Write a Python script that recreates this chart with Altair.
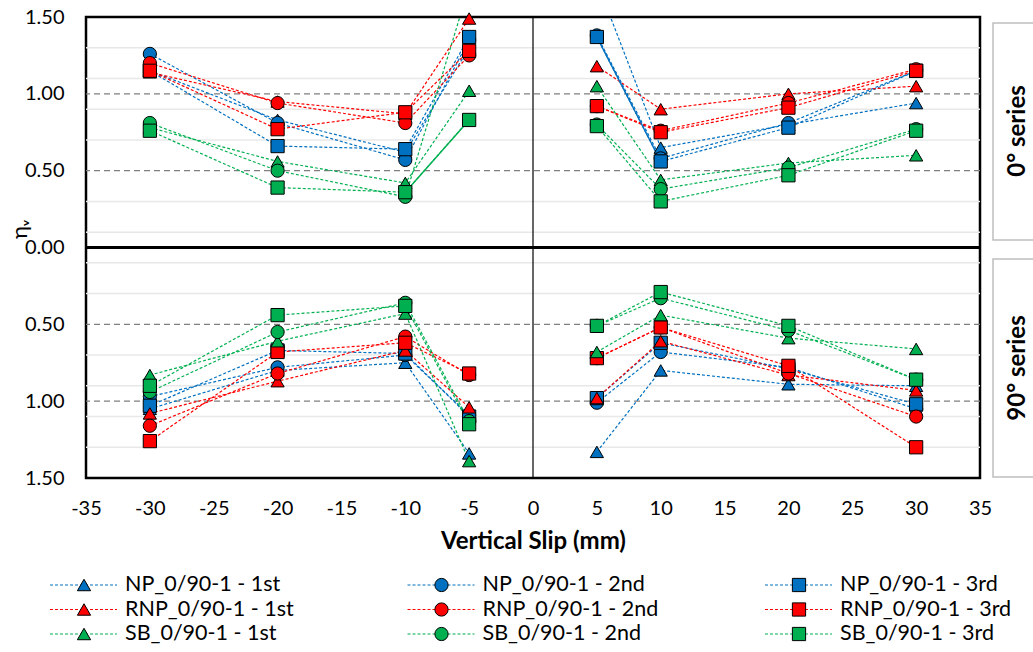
import altair as alt
import pandas as pd

# ---------------- data ----------------
slip = [-30, -20, -10, -5, 5, 10, 20, 30]

series_names = [
    "NP_0/90-1 - 1st", "NP_0/90-1 - 2nd", "NP_0/90-1 - 3rd",
    "RNP_0/90-1 - 1st", "RNP_0/90-1 - 2nd", "RNP_0/90-1 - 3rd",
    "SB_0/90-1 - 1st", "SB_0/90-1 - 2nd", "SB_0/90-1 - 3rd",
]
series_colors = ["#0070C0"] * 3 + ["#FF0000"] * 3 + ["#00B050"] * 3
series_shapes = ["triangle-up", "circle", "square"] * 3

# 0° series (upper panel)
np1_0 = [1.15, 0.83, 0.62, 1.30, 1.73, 0.65, 0.80, 0.94]
np2_0 = [1.26, 0.81, 0.57, 1.35, 1.38, 0.58, 0.81, 1.15]
np3_0 = [1.15, 0.66, 0.64, 1.37, 1.37, 0.56, 0.78, 1.15]
rnp1_0 = [1.14, 0.95, 0.87, 1.49, 1.18, 0.90, 1.00, 1.05]
rnp2_0 = [1.20, 0.94, 0.81, 1.25, 0.92, 0.76, 0.94, 1.16]
rnp3_0 = [1.15, 0.77, 0.88, 1.28, 0.92, 0.75, 0.91, 1.15]
sb1_0 = [0.78, 0.56, 0.42, 1.02, 1.05, 0.44, 0.55, 0.60]
sb2_0 = [0.81, 0.50, 0.33, 1.70, 0.80, 0.38, 0.52, 0.77]
sb3_0 = [0.76, 0.39, 0.36, 0.83, 0.79, 0.30, 0.47, 0.76]

# 90° series (lower panel, axis reversed)
np1_90 = [1.05, 0.80, 0.75, 1.34, 1.33, 0.80, 0.89, 0.90]
np2_90 = [0.97, 0.78, 0.70, 1.09, 1.01, 0.68, 0.78, 1.05]
np3_90 = [1.03, 0.67, 0.69, 1.10, 0.98, 0.62, 0.79, 1.02]
rnp1_90 = [1.08, 0.87, 0.67, 1.04, 0.98, 0.61, 0.83, 0.93]
rnp2_90 = [1.16, 0.82, 0.58, 0.83, 0.72, 0.52, 0.82, 1.10]
rnp3_90 = [1.26, 0.68, 0.62, 0.82, 0.72, 0.52, 0.77, 1.30]
sb1_90 = [0.83, 0.61, 0.43, 1.39, 0.68, 0.44, 0.59, 0.66]
sb2_90 = [0.94, 0.55, 0.36, 1.13, 0.51, 0.33, 0.54, 0.86]
sb3_90 = [0.90, 0.44, 0.38, 1.15, 0.51, 0.29, 0.51, 0.86]

values_0 = [np1_0, np2_0, np3_0, rnp1_0, rnp2_0, rnp3_0, sb1_0, sb2_0, sb3_0]
values_90 = [np1_90, np2_90, np3_90, rnp1_90, rnp2_90, rnp3_90, sb1_90, sb2_90, sb3_90]

# segments drawn with a solid line: (series index, panel, from slip, to slip)
solid_segments = [(2, "0", 5, 10), (8, "0", -10, -5)]

x_ticks = list(range(-35, 36, 5))
y_ticks = [-1.5, -1.0, -0.5, 0.0, 0.5, 1.0, 1.5]
grid_minor = [0.1, 0.3, 0.7, 0.9, 1.1, 1.3]
grid_major = [0.5, 1.0]
panel_labels = ["0° series", "90° series"]

# ---------------- tables ----------------
rows = []
for panel, vals, sign in (("0", values_0, 1), ("90", values_90, -1)):
    for i, name in enumerate(series_names):
        for xv, v in zip(slip, vals[i]):
            side = "neg" if xv < 0 else "pos"
            rows.append({"series": name, "idx": i, "panel": panel,
                         "key": name + "|" + panel + "|" + side, "x": xv, "y": sign * v})
df = pd.DataFrame(rows)

seg_rows = []
for k, (i, panel, a, b) in enumerate(solid_segments):
    vals = values_0 if panel == "0" else values_90
    sign = 1 if panel == "0" else -1
    for xv in (a, b):
        seg_rows.append({"series": series_names[i], "seg": k, "x": xv,
                         "y": sign * vals[i][slip.index(xv)]})
dseg = pd.DataFrame(seg_rows)

gmin = pd.DataFrame({"g": [s * g for g in grid_minor for s in (1, -1)]})
gmaj = pd.DataFrame({"g": [s * g for g in grid_major for s in (1, -1)]})
zero = pd.DataFrame({"z": [0]})

leg = pd.DataFrame({
    "series": series_names,
    "col": [i % 3 for i in range(9)],
    "row": [i // 3 for i in range(9)],
})

FONT = "Lato"
W, H = 894, 461
xs = alt.Scale(domain=[-35, 35], nice=False, zero=False)
ys = alt.Scale(domain=[-1.5, 1.5], nice=False, zero=False)
color_scale = alt.Scale(domain=series_names, range=series_colors)
shape_scale = alt.Scale(domain=series_names, range=series_shapes)

minor = alt.Chart(gmin).mark_rule(color="#E8E8E8", strokeWidth=1.5).encode(
    y=alt.Y("g:Q", scale=ys, axis=None))
major = alt.Chart(gmaj).mark_rule(color="#7F7F7F", strokeWidth=1.2, strokeDash=[6, 4]).encode(
    y=alt.Y("g:Q", scale=ys, axis=None))
vline = alt.Chart(zero).mark_rule(color="black", strokeWidth=1.2).encode(
    x=alt.X("z:Q", scale=xs, axis=None))
hline = alt.Chart(zero).mark_rule(color="black", strokeWidth=3).encode(
    y=alt.Y("z:Q", scale=ys, axis=None))

lines = alt.Chart(df).mark_line(strokeDash=[3, 2], strokeWidth=1.2, clip=True).encode(
    x=alt.X("x:Q", scale=xs, axis=None),
    y=alt.Y("y:Q", scale=ys, axis=None),
    color=alt.Color("series:N", scale=color_scale, legend=None),
    detail="key:N",
    order="x:Q",
)

solid = alt.Chart(dseg).mark_line(strokeWidth=1.4, clip=True).encode(
    x=alt.X("x:Q", scale=xs, axis=None),
    y=alt.Y("y:Q", scale=ys, axis=None),
    color=alt.Color("series:N", scale=color_scale, legend=None),
    detail="seg:N",
    order="x:Q",
)

points = alt.Chart(df).transform_filter(
    "abs(datum.y) <= 1.5"
).mark_point(filled=True, size=175, stroke="black", strokeWidth=1, opacity=1).encode(
    x=alt.X("x:Q", scale=xs, axis=alt.Axis(
        values=x_ticks, labelExpr="datum.value + ''", labelFontSize=20, labelFont=FONT,
        labelColor="black", ticks=False, domain=False, grid=False, labelFlush=False,
        labelPadding=20,
        title="Vertical Slip (mm)", titleFont=FONT, titleFontSize=24, titleFontWeight="bold",
        titleColor="black", titlePadding=11)),
    y=alt.Y("y:Q", scale=ys, axis=alt.Axis(
        values=y_ticks, labelExpr="format(abs(datum.value), '.2f')", labelFontSize=20,
        labelFont=FONT, labelColor="black", ticks=False, domain=False, grid=False,
        labelFlush=False, labelPadding=22,
        title="ηᵥ", titleFont=FONT, titleFontSize=22, titleFontWeight="normal",
        titleColor="black", titleAngle=270, titleX=-67, titleY=212,
        titleAlign="center", titleBaseline="middle")),
    fill=alt.Fill("series:N", scale=color_scale, legend=None),
    shape=alt.Shape("series:N", scale=shape_scale, legend=None),
)

# ---------------- custom legend ----------------
lx = alt.Scale(domain=[0, 2], range=[-2, 713])
ly = alt.Scale(domain=[0, 2], range=[568, 617])
leg_lines = alt.Chart(leg).mark_rule(strokeDash=[3, 2], strokeWidth=1.2, xOffset=-34, x2Offset=33).encode(
    x=alt.X("col:Q", scale=lx, axis=None), x2="col:Q",
    y=alt.Y("row:Q", scale=ly, axis=None),
    color=alt.Color("series:N", scale=color_scale, legend=None),
)
leg_pts = alt.Chart(leg).mark_point(filled=True, size=175, stroke="black", strokeWidth=1, opacity=1).encode(
    x=alt.X("col:Q", scale=lx, axis=None),
    y=alt.Y("row:Q", scale=ly, axis=None),
    fill=alt.Fill("series:N", scale=color_scale, legend=None),
    shape=alt.Shape("series:N", scale=shape_scale, legend=None),
)
leg_txt = alt.Chart(leg).mark_text(align="left", baseline="middle", dx=41, fontSize=21.5,
                                   font=FONT, color="black").encode(
    x=alt.X("col:Q", scale=lx, axis=None),
    y=alt.Y("row:Q", scale=ly, axis=None),
    text="series:N",
)

# ---------------- panel labels on the right ----------------
one = pd.DataFrame({"a": [0]})
box1 = alt.Chart(one).mark_rect(fill="white", stroke="#BFBFBF", strokeWidth=1.5).encode(
    x=alt.value(907), x2=alt.value(960), y=alt.value(6), y2=alt.value(223))
box2 = alt.Chart(one).mark_rect(fill="white", stroke="#BFBFBF", strokeWidth=1.5).encode(
    x=alt.value(907), x2=alt.value(960), y=alt.value(242), y2=alt.value(460))
lab1 = alt.Chart(one).mark_text(text=panel_labels[0], angle=270, fontSize=24, fontWeight="bold",
                                font=FONT, color="black", align="center", baseline="middle").encode(
    x=alt.value(932), y=alt.value(114))
lab2 = alt.Chart(one).mark_text(text=panel_labels[1], angle=270, fontSize=24, fontWeight="bold",
                                font=FONT, color="black", align="center", baseline="middle").encode(
    x=alt.value(932), y=alt.value(351))

chart = alt.layer(
    minor, major, vline, hline, lines, solid, points,
    leg_lines, leg_pts, leg_txt, box1, box2, lab1, lab2,
).resolve_scale(
    x="independent", y="independent"
).properties(
    width=W, height=H,
    autosize=alt.AutoSizeParams(type="none"),
    padding={"left": 86, "top": 17, "right": 53, "bottom": 174},
    background="white",
).configure_view(stroke="black", strokeWidth=2.5)

chart.save("out.html", embed_options={"renderer": "svg", "actions": False})
